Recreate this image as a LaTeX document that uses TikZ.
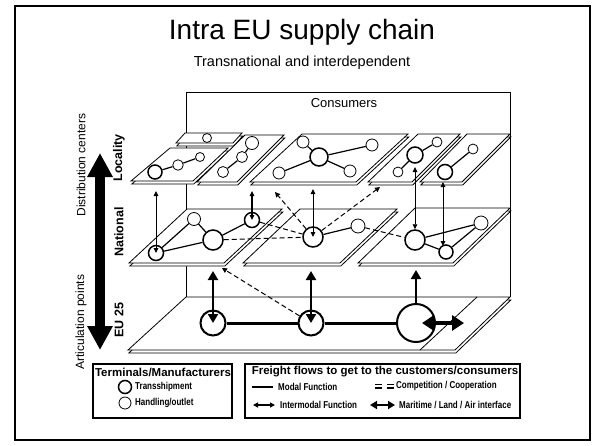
\documentclass[tikz,border=0pt]{standalone}
\usepackage{fontspec}
\setmainfont{Liberation Sans}
\newfontfamily\narrowfont[FakeStretch=0.8]{Liberation Sans}
\usetikzlibrary{arrows.meta,calc}

\tikzset{
  slabline/.style={draw=black, line width=0.8pt, fill=white},
  hubthick/.style={circle, draw, line width=1.5pt, fill=white, inner sep=0pt},
  hubthin/.style={circle, draw, line width=0.8pt, fill=white, inner sep=0pt},
  hubfloor/.style={circle, draw, line width=2pt, fill=white, inner sep=0pt},
  link/.style={line width=1.2pt},
  modal/.style={line width=3pt},
  flow/.style={line width=1pt, dash pattern=on 5pt off 3pt},
  flowtip/.style={flow, -{Triangle[length=5pt,width=5pt]}},
  thinarrow/.style={line width=0.9pt, {Triangle[length=5pt,width=4.5pt]}-{Triangle[length=5pt,width=4.5pt]}},
  boldarrow/.style={line width=2.5pt, {Triangle[length=9pt,width=10pt]}-{Triangle[length=9pt,width=10pt]}},
  uparrow/.style={line width=2.5pt, -{Triangle[length=9pt,width=10pt]}},
  seaarrow/.style={line width=3.5pt, {Triangle[length=12pt,width=15pt]}-{Triangle[length=12pt,width=15pt]}},
  legbox/.style={draw, line width=1.5pt, inner sep=0pt},
  legtext/.style={font=\narrowfont\bfseries\fontsize{10}{12}\selectfont, anchor=west, inner sep=0pt},
  legtitle/.style={font=\bfseries\fontsize{11.5}{13}\selectfont, inner sep=0pt},
  sidelabel/.style={rotate=90, font=\fontsize{12}{14}\selectfont, inner sep=0pt},
  levellabel/.style={rotate=90, font=\bfseries\fontsize{12.5}{14}\selectfont, inner sep=0pt},
}

% a plate with a thin second face just below it
\newcommand\slab[4]{%
  \draw[slabline] ($(#1)+(0.8,3)$) -- ($(#2)+(0.8,3)$) -- ($(#3)+(0.8,3)$) -- ($(#4)+(0.8,3)$) -- cycle;
  \draw[slabline] (#1) -- (#2) -- (#3) -- (#4) -- cycle;}

\begin{document}
\begin{tikzpicture}[x=1pt,y=-1pt]
\useasboundingbox (0,0) rectangle (602,445);
\draw[line width=2pt] (15,6) rectangle (590,440);

% headings
\node[font=\fontsize{28}{32}\selectfont] (title) at (302,32) {Intra EU supply chain};
\node[font=\fontsize{14.5}{17}\selectfont] (subtitle) at (302,63) {Transnational and interdependent};

% back wall
\draw[line width=0.8pt] (186,297) -- (186,92) -- (510,92) -- (510,297);
\node[font=\fontsize{13}{15}\selectfont] (consumers) at (344,103) {Consumers};

% EU 25 floor
\slab{186,297}{510,297}{455,350}{128,350}
\draw[line width=0.8pt] (477,297) -- (420,350);

% national plates
\slab{187,209}{282,209}{224,263}{129,263}
\slab{300,209}{397,209}{340,263}{243,263}
\slab{415,208}{510,208}{453,263}{358,263}

% locality plates
\slab{185,133}{242,133}{233,143}{176,143}
\slab{170,148}{228,148}{193,181}{131,181}
\slab{245,135}{284,135}{237,182}{197,182}
\slab{302,134}{408,134}{356,182}{250,182}
\slab{418,134}{460,134}{412,182}{368,182}
\slab{467,134}{510,134}{462,182}{420,182}

% hubs, locality
\node[hubthin, minimum size=9] (s1) at (207,138) {};
\node[hubthick, minimum size=14] (l1a) at (155,172) {};
\node[hubthin, minimum size=10.5] (l1b) at (178,165) {};
\node[hubthin, minimum size=9] (l1c) at (200,157) {};
\node[hubthin, minimum size=13] (l2a) at (252,143) {};
\node[hubthin, minimum size=11] (l2b) at (242,157) {};
\node[hubthin, minimum size=11] (l2c) at (223,172) {};
\node[hubthick, minimum size=18] (l3a) at (319,157) {};
\node[hubthin, minimum size=12] (l3b) at (303,142) {};
\node[hubthin, minimum size=12] (l3c) at (372,145) {};
\node[hubthin, minimum size=12] (l3d) at (350,171) {};
\node[hubthin, minimum size=12] (l3e) at (279,173) {};
\node[hubthick, minimum size=16] (l4a) at (415,155) {};
\node[hubthin, minimum size=10] (l4b) at (437,142) {};
\node[hubthin, minimum size=10] (l4c) at (398,172) {};
\node[hubthick, minimum size=15] (l5a) at (445,172) {};
\node[hubthin, minimum size=10] (l5b) at (473,149) {};

% hubs, national
\node[hubthick, minimum size=15] (n1a) at (156,253) {};
\node[hubthin, minimum size=13] (n1b) at (194,219) {};
\node[hubthick, minimum size=20] (n1c) at (213,240) {};
\node[hubthick, minimum size=15] (n1d) at (252,220) {};
\node[hubthick, minimum size=20] (n2a) at (313,237) {};
\node[hubthin, minimum size=14] (n2b) at (358,226) {};
\node[hubthick, minimum size=20] (n3a) at (415,240) {};
\node[hubthick, minimum size=14] (n3b) at (446,252) {};
\node[hubthin, minimum size=14] (n3c) at (481,223) {};

% hubs, EU 25
\node[hubfloor, minimum size=25] (fa) at (213,323) {};
\node[hubfloor, minimum size=25] (fb) at (311,323) {};
\node[hubfloor, minimum size=38] (fc) at (416,323) {};

% links inside each plate
\draw[link] (l1a) -- (l1b) (l1b) -- (l1c);
\draw[link] (l2a) -- (l2b) (l2b) -- (l2c);
\draw[link] (l3a) -- (l3b) (l3a) -- (l3c) (l3a) -- (l3d) (l3a) -- (l3e);
\draw[link] (l4c) -- (l4a) (l4a) -- (l4b);
\draw[link] (l5a) -- (l5b);
\draw[link] (n1a) -- (n1b) (n1a) -- (n1c) (n1b) -- (n1c) (n1c) -- (n1d);
\draw[link] (n2a) -- (n2b);
\draw[link] (n3a) -- (n3c) (n3a) -- (n3b) (n3b) -- (n3c);
\draw[modal] (fa) -- (fb) (fb) -- (fc);

% competition / cooperation
\coordinate (c1) at (222,268);
\coordinate (c2) at (275,192);
\coordinate (c3) at (380,187);
\draw[flowtip] (fb) -- (c1);
\draw[flow] (n1c) -- (n2a);
\draw[flow] (n1d) -- (n2a);
\draw[flowtip] (n2a) -- (c2);
\draw[flowtip] (n2a) -- (c3);
\draw[flow] (n2b) -- (n3a);

% intermodal links between levels
\coordinate (u1) at (156,191);
\coordinate (u2) at (252,191);
\coordinate (u3) at (313,189);
\coordinate (u4) at (415,167);
\coordinate (u5) at (443,182);
\coordinate (u5b) at (443,246);
\draw[thinarrow] (u1) -- (n1a.center);
\draw[thinarrow, line width=1.4pt] (u2) -- (n1d.center);
\draw[thinarrow] (u3) -- (n2a.center);
\draw[thinarrow] (u4) -- (n3a.north);
\draw[thinarrow] (u5) -- (u5b);

\coordinate (v1) at (213,271);
\coordinate (v2) at (311,271);
\coordinate (v3) at (416,270);
\draw[boldarrow] (v1) -- (fa.center);
\draw[boldarrow] (v2) -- (fb.center);
\draw[uparrow] (fc.north) -- (v3);

% maritime / land / air interface
\coordinate (m1) at (422,323);
\coordinate (m2) at (464,323);
\draw[seaarrow] (m1) -- (m2);

% scale axis on the left
\coordinate (axtop) at (100,153);
\coordinate (axbot) at (100,350);
\draw[line width=10pt, {Triangle[length=24pt,width=24pt]}-{Triangle[length=24pt,width=24pt]}] (axtop) -- (axbot);
\node[sidelabel] (distc) at (81,165) {Distribution centers};
\node[sidelabel] (artp) at (81,322) {Articulation points};
\node[levellabel] (loc) at (119,158) {Locality};
\node[levellabel] (nat) at (119,232) {National};
\node[levellabel] (eu) at (119,320) {EU 25};

% legend: terminals
\node[legbox, minimum width=139, minimum height=54] (leg1) at (162.5,391) {};
\node[legtitle] (leg1t) at (163,372) {Terminals/Manufacturers};
\node[hubthick, minimum size=13] (legc1) at (125,387) {};
\node[hubthin, minimum size=12] (legc2) at (125,403) {};
\node[legtext] (legc1t) at (135,387) {Transshipment};
\node[legtext] (legc2t) at (135,403) {Handling/outlet};

% legend: flows
\node[legbox, minimum width=275, minimum height=54] (leg2) at (382.5,391) {};
\node[legtitle] (leg2t) at (385,372) {Freight flows to get to the customers/consumers};
\coordinate (k1a) at (252,387); \coordinate (k1b) at (273,387);
\draw[line width=2.5pt] (k1a) -- (k1b);
\node[legtext] (k1t) at (278,387) {Modal Function};
\coordinate (k2a) at (375,384.5); \coordinate (k2b) at (394,384.5);
\coordinate (k2c) at (375,388); \coordinate (k2d) at (394,388);
\draw[line width=1pt, dash pattern=on 7pt off 5pt] (k2a) -- (k2b);
\draw[line width=1.6pt, dash pattern=on 7pt off 5pt] (k2c) -- (k2d);
\node[legtext] (k2t) at (396,386) {Competition / Cooperation};
\coordinate (k3a) at (253,405); \coordinate (k3b) at (275,405);
\draw[line width=1.2pt, {Triangle[length=5pt,width=5pt]}-{Triangle[length=5pt,width=5pt]}] (k3a) -- (k3b);
\node[legtext] (k3t) at (280,405) {Intermodal Function};
\coordinate (k4a) at (370,405); \coordinate (k4b) at (395,405);
\draw[line width=2.2pt, {Triangle[length=7pt,width=8pt]}-{Triangle[length=7pt,width=8pt]}] (k4a) -- (k4b);
\node[legtext] (k4t) at (399,405) {Maritime / Land / Air interface};
\end{tikzpicture}
\end{document}
